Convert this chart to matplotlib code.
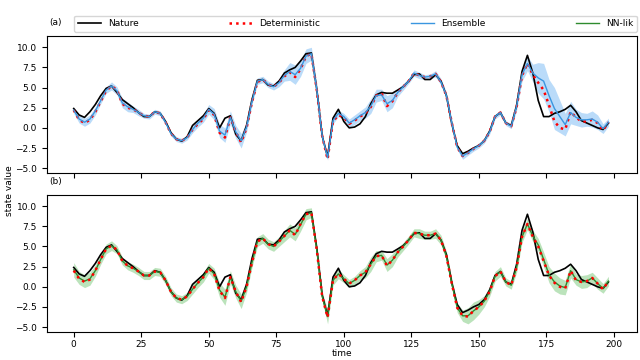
import numpy as np
import matplotlib
matplotlib.use('Agg')
import matplotlib.pyplot as plt

# ----------------------------------------------------------------
# donnees (pas de temps de 2)

temps = np.arange(0, 200, 2)

nature = [2.4, 1.6, 1.3, 2.0, 2.9, 4.0, 4.9, 5.2, 4.4, 3.5,
          3.0, 2.5, 1.9, 1.4, 1.4, 2.0, 1.8, 0.8, -0.6, -1.4,
          -1.65, -1.1, 0.3, 0.9, 1.5, 2.4, 1.8, 0.0, 1.2, 1.5,
          -0.8, -1.6, 0.3, 3.5, 5.9, 6.0, 5.3, 5.2, 5.8, 6.8,
          7.2, 7.5, 8.3, 9.2, 9.3, 4.8, -1.0, -3.6, 1.2, 2.3,
          0.8, 0.0, 0.1, 0.5, 1.4, 3.0, 4.1, 4.4, 4.3, 4.3,
          4.7, 5.1, 5.8, 6.6, 6.7, 6.0, 6.0, 6.6, 5.8, 4.0,
          0.5, -2.2, -3.2, -2.9, -2.5, -2.2, -1.6, -0.4, 1.4, 1.9,
          0.6, 0.3, 2.8, 7.0, 9.0, 6.8, 3.4, 1.4, 1.4, 1.8,
          2.0, 2.3, 2.8, 2.0, 0.9, 0.6, 0.3, 0.0, -0.2, 0.6]

# panneau (a)
determ_a = [2.2, 1.0, 0.6, 1.0, 2.0, 3.3, 4.6, 5.2, 4.7, 3.0,
            2.5, 2.3, 1.9, 1.5, 1.4, 2.0, 1.8, 0.7, -0.7, -1.4,
            -1.6, -1.2, -0.2, 0.5, 1.1, 2.2, 1.6, -0.6, -1.2, 1.3,
            -0.5, -1.8, 0.0, 3.2, 5.7, 6.0, 5.4, 5.1, 5.6, 6.4,
            6.9, 6.3, 7.3, 8.9, 9.2, 4.7, -1.0, -3.9, 0.8, 1.6,
            1.3, 0.5, 0.9, 1.4, 1.8, 2.6, 4.0, 4.3, 2.7, 3.3,
            4.4, 5.1, 5.8, 6.8, 6.5, 6.3, 6.4, 6.7, 5.7, 4.0,
            0.6, -2.4, -3.5, -3.1, -2.6, -2.2, -1.6, -0.5, 1.4, 1.9,
            0.6, 0.2, 2.6, 6.5, 8.0, 6.6, 5.6, 4.7, 2.8, 0.8,
            0.0, -0.2, 2.0, 1.3, 0.8, 0.8, 1.0, 0.6, -0.3, 0.7]

ensemble = [2.2, 1.1, 0.7, 1.1, 2.1, 3.4, 4.7, 5.2, 4.6, 3.1,
            2.6, 2.3, 1.9, 1.5, 1.4, 2.0, 1.8, 0.7, -0.7, -1.4,
            -1.6, -1.2, -0.2, 0.6, 1.2, 2.3, 1.7, -0.4, -0.9, 1.3,
            -0.5, -1.6, 0.1, 3.3, 5.8, 6.0, 5.4, 5.1, 5.6, 6.5,
            7.0, 6.6, 7.4, 8.9, 9.2, 4.8, -1.0, -3.7, 0.9, 1.8,
            1.4, 0.6, 1.0, 1.5, 1.9, 2.7, 4.0, 4.1, 3.0, 3.4,
            4.4, 5.1, 5.8, 6.8, 6.5, 6.3, 6.4, 6.7, 5.7, 4.0,
            0.6, -2.4, -3.5, -3.1, -2.6, -2.2, -1.6, -0.5, 1.4, 1.9,
            0.6, 0.2, 2.7, 6.6, 8.0, 6.8, 6.2, 5.8, 4.0, 2.4,
            1.4, 0.4, 1.9, 1.3, 1.0, 1.0, 1.1, 0.7, -0.1, 0.7]

ens_ecart = [0.4, 0.5, 0.5, 0.5, 0.5, 0.4, 0.4, 0.5, 0.5, 0.6,
             0.6, 0.4, 0.4, 0.3, 0.3, 0.3, 0.3, 0.3, 0.3, 0.3,
             0.3, 0.3, 0.4, 0.5, 0.5, 0.6, 0.7, 0.8, 0.9, 0.8,
             0.8, 0.9, 0.6, 0.4, 0.4, 0.4, 0.4, 0.4, 0.5, 0.7,
             1.1, 1.2, 1.0, 0.9, 0.8, 0.5, 0.3, 0.3, 0.4, 0.4,
             0.4, 0.5, 0.6, 0.6, 0.7, 0.9, 0.8, 0.7, 1.0, 0.9,
             0.5, 0.4, 0.3, 0.4, 0.4, 0.3, 0.3, 0.4, 0.4, 0.4,
             0.4, 0.3, 0.4, 0.3, 0.3, 0.3, 0.3, 0.3, 0.3, 0.3,
             0.3, 0.3, 0.5, 0.8, 0.9, 1.1, 1.9, 2.2, 2.0, 2.6,
             2.0, 1.4, 1.4, 1.0, 0.9, 0.8, 1.0, 0.9, 0.6, 0.5]

# panneau (b)
determ_b = [2.0, 1.0, 0.6, 0.9, 2.0, 3.4, 4.7, 5.1, 4.6, 3.2,
            2.6, 2.3, 1.9, 1.4, 1.4, 1.9, 1.8, 0.8, -0.6, -1.4,
            -1.6, -1.2, -0.3, 0.5, 1.2, 2.3, 1.6, -0.5, -1.4, 1.2,
            -0.6, -1.9, 0.0, 3.0, 5.6, 6.0, 5.3, 5.0, 5.6, 6.3,
            7.0, 6.4, 7.8, 9.0, 9.2, 4.6, -1.2, -3.8, 0.8, 1.6,
            1.0, 0.4, 0.8, 1.4, 1.8, 2.8, 3.8, 3.9, 2.6, 3.3,
            4.3, 5.0, 5.8, 6.7, 6.6, 6.4, 6.4, 6.6, 5.8, 3.8,
            0.4, -2.6, -3.6, -3.7, -3.0, -2.5, -1.8, -0.6, 1.3, 1.9,
            0.6, 0.2, 2.4, 6.2, 7.8, 6.2, 5.0, 3.2, 1.4, 0.5,
            0.0, -0.2, 2.0, 0.8, 0.6, 0.7, 1.1, 0.4, -0.3, 0.7]

nnlik = [2.1, 1.1, 0.7, 1.0, 2.0, 3.4, 4.7, 5.1, 4.6, 3.2,
         2.6, 2.3, 1.9, 1.4, 1.4, 1.9, 1.8, 0.8, -0.6, -1.4,
         -1.6, -1.2, -0.3, 0.5, 1.2, 2.3, 1.6, -0.4, -1.3, 1.2,
         -0.6, -1.8, 0.0, 3.0, 5.6, 6.0, 5.3, 5.0, 5.6, 6.3,
         7.0, 6.5, 7.7, 9.0, 9.2, 4.6, -1.2, -3.7, 0.8, 1.6,
         1.0, 0.4, 0.8, 1.4, 1.8, 2.8, 3.8, 3.9, 2.7, 3.3,
         4.3, 5.0, 5.8, 6.7, 6.6, 6.4, 6.4, 6.6, 5.8, 3.8,
         0.4, -2.6, -3.6, -3.6, -3.0, -2.5, -1.8, -0.6, 1.3, 1.9,
         0.6, 0.2, 2.4, 6.2, 7.8, 6.3, 5.2, 3.4, 1.5, 0.6,
         0.1, -0.1, 2.0, 0.9, 0.6, 0.7, 1.1, 0.4, -0.2, 0.7]

nn_ecart = [0.9, 0.8, 0.8, 0.8, 0.7, 0.6, 0.6, 0.6, 0.5, 0.5,
            0.5, 0.5, 0.5, 0.5, 0.5, 0.5, 0.5, 0.5, 0.5, 0.5,
            0.5, 0.5, 0.6, 0.6, 0.6, 0.6, 0.7, 0.9, 1.0, 0.8,
            0.8, 0.9, 0.7, 0.6, 0.6, 0.6, 0.6, 0.6, 0.6, 0.7,
            0.8, 0.8, 0.8, 0.7, 0.6, 0.6, 0.5, 0.9, 0.6, 0.6,
            0.5, 0.5, 0.5, 0.6, 0.7, 0.9, 0.7, 0.6, 0.8, 0.8,
            0.6, 0.5, 0.5, 0.5, 0.6, 0.5, 0.5, 0.6, 0.6, 0.6,
            0.6, 0.6, 0.7, 1.0, 1.1, 0.9, 0.7, 0.6, 0.6, 0.6,
            0.5, 0.5, 0.6, 0.7, 0.7, 0.7, 0.8, 0.9, 1.0, 1.1,
            1.0, 0.9, 0.9, 0.7, 0.8, 0.8, 0.7, 0.7, 0.6, 0.6]

# ----------------------------------------------------------------
# plot

plt.rcParams['font.size'] = 6.5

fig, (ax1, ax2) = plt.subplots(nrows=2, sharex=True, sharey=True, figsize=(6.4, 3.6), dpi=100)
fig.subplots_adjust(left=0.073, right=0.995, top=0.9, bottom=0.078, hspace=0.16)

ens = np.array(ensemble)
ens_e = np.array(ens_ecart)
nn = np.array(nnlik)
nn_e = np.array(nn_ecart)

# (a) ensemble
ax1.fill_between(temps, ens - ens_e, ens + ens_e, color='#8cc4f5', alpha=0.6, lw=0)
ax1.plot(temps, nature, color='k', lw=1.2, label='Nature')
ax1.plot(temps, determ_a, color='red', ls=':', lw=1.8, label='Deterministic')
ax1.plot(temps, ensemble, color='#3a96e0', lw=1.0, label='Ensemble')
ax1.plot([], [], color='#2e8b2e', lw=1.0, label='NN-lik')   # juste pour la legende

# (b) NN-lik
ax2.fill_between(temps, nn - nn_e, nn + nn_e, color='#8fd18f', alpha=0.6, lw=0)
ax2.plot(temps, nature, color='k', lw=1.2)
ax2.plot(temps, nnlik, color='#2e8b2e', lw=1.0)
ax2.plot(temps, determ_b, color='red', ls=':', lw=1.8)

ax1.legend(loc='lower left', bbox_to_anchor=(0.047, 1.03, 0.953, 0.1), mode='expand',
           ncol=4, borderaxespad=0., fontsize=6.5, handlelength=2.5)
ax1.text(0.004, 1.095, '(a)', transform=ax1.transAxes, ha='left', va='center')
ax2.text(0.004, 1.095, '(b)', transform=ax2.transAxes, ha='left', va='center')

ax2.set_xlim(-10, 208.5)
ax2.set_ylim(-5.6, 11.4)
ax2.set_xticks([0, 25, 50, 75, 100, 125, 150, 175, 200])
ax2.set_yticks([-5, -2.5, 0, 2.5, 5, 7.5, 10])
ax2.tick_params(axis='x', pad=2)
ax2.set_xlabel('time', labelpad=0)
fig.text(0.008, 0.47, 'state value', rotation=90, ha='left', va='center')

plt.savefig('out.png')
